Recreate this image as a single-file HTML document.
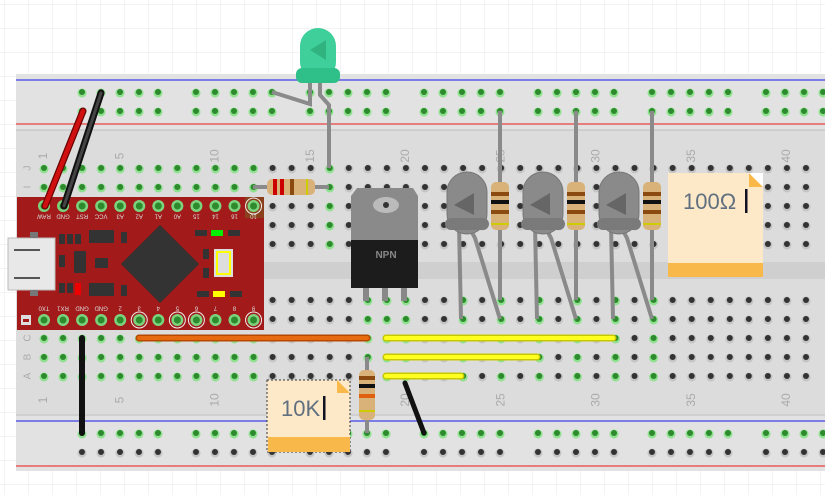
<!DOCTYPE html>
<html><head><meta charset="utf-8"><style>
html,body{margin:0;padding:0;background:#fff}
svg{display:block}
</style></head><body>
<svg id="s" width="825" height="495" viewBox="0 0 825 495" xmlns="http://www.w3.org/2000/svg" font-family="Liberation Sans, sans-serif">
<defs>
<pattern id="g" width="24" height="24" patternUnits="userSpaceOnUse" x="4" y="4"><path d="M24 0H0V24" fill="none" stroke="#e6e8ee" stroke-width="1"/></pattern>
</defs>
<rect width="825" height="495" fill="url(#g)"/>
<rect x="16" y="74" width="809" height="397" fill="#dcdcdc"/>
<rect x="16" y="74" width="809" height="56" fill="#e2e2e2"/>
<rect x="16" y="414" width="809" height="57" fill="#e2e2e2"/>
<line x1="16" y1="80" x2="825" y2="80" stroke="#5a5ae8" stroke-width="1.5"/>
<line x1="16" y1="124" x2="825" y2="124" stroke="#e85a5a" stroke-width="1.5"/>
<line x1="16" y1="130" x2="825" y2="130" stroke="#bdbdbd"/>
<line x1="16" y1="415" x2="825" y2="415" stroke="#bdbdbd"/>
<line x1="16" y1="421" x2="825" y2="421" stroke="#5a5ae8" stroke-width="1.5"/>
<line x1="16" y1="466" x2="825" y2="466" stroke="#e85a5a" stroke-width="1.5"/>
<rect x="16" y="262" width="809" height="17" fill="#cfcfcf"/>
<g id="holes"></g>
<g id="labels" fill="#aaa" font-size="12"></g>

<!-- Arduino -->
<rect x="17" y="197" width="247" height="133" fill="#a31a1a"/>
<rect x="8" y="238" width="47" height="52" fill="#e8e8e8" stroke="#bbb"/>
<rect x="30" y="232" width="8" height="6" fill="#777"/><rect x="30" y="290" width="8" height="6" fill="#777"/>
<line x1="14" y1="250" x2="40" y2="250" stroke="#555" stroke-width="2"/><line x1="14" y1="278" x2="40" y2="278" stroke="#555" stroke-width="2"/>
<polygon points="160,225 199,264 160,303 121,264" fill="#333"/>
<rect x="59" y="234" width="6" height="10" fill="#333"/><rect x="67" y="234" width="6" height="10" fill="#333"/><rect x="75" y="234" width="6" height="10" fill="#333"/>
<rect x="89" y="230" width="25" height="13" fill="#333"/><rect x="121" y="232" width="6" height="11" fill="#333"/>
<rect x="59" y="255" width="6" height="12" fill="#333"/><rect x="74" y="251" width="12" height="22" fill="#333"/><rect x="95" y="258" width="13" height="10" fill="#333"/>
<rect x="59" y="283" width="6" height="10" fill="#333"/><rect x="67" y="283" width="6" height="10" fill="#333"/><rect x="75" y="283" width="6" height="12" fill="#e00"/>
<rect x="89" y="283" width="25" height="13" fill="#333"/><rect x="121" y="285" width="6" height="11" fill="#333"/>
<rect x="195" y="230" width="12" height="6" fill="#333"/><rect x="211" y="230" width="12" height="6" fill="#0e0"/><rect x="228" y="230" width="12" height="6" fill="#333"/>
<rect x="203" y="249" width="6" height="10" fill="#333"/><rect x="203" y="268" width="6" height="10" fill="#333"/>
<rect x="214" y="249" width="19" height="28" fill="#ddd"/><rect x="217" y="252" width="13" height="22" fill="none" stroke="#ff0" stroke-width="2"/>
<rect x="197" y="291" width="12" height="6" fill="#333"/><rect x="213" y="291" width="12" height="6" fill="#ff0"/><rect x="230" y="291" width="12" height="6" fill="#333"/>
<rect x="21" y="315" width="10" height="10" fill="#ddd"/><rect x="23" y="319" width="6" height="3" fill="#a31a1a"/>
<rect x="245" y="197" width="19" height="21" fill="#7a5a20" opacity=".6"/>
<g id="apins"></g>
<g fill="#ddd" font-size="6" id="alab"></g>

<!-- wires -->
<line x1="45" y1="206" x2="83" y2="111" stroke="#6a0000" stroke-width="7" stroke-linecap="round"/>
<line x1="45" y1="206" x2="83" y2="111" stroke="#d01010" stroke-width="4.5" stroke-linecap="round"/>
<line x1="64" y1="206" x2="101" y2="93" stroke="#111" stroke-width="7" stroke-linecap="round"/>
<line x1="64" y1="206" x2="101" y2="93" stroke="#444" stroke-width="3" stroke-linecap="round"/>
<line x1="82" y1="338" x2="82" y2="433" stroke="#111" stroke-width="6" stroke-linecap="round"/>
<line x1="139" y1="338" x2="367" y2="338" stroke="#b84800" stroke-width="7" stroke-linecap="round"/>
<line x1="139" y1="338" x2="367" y2="338" stroke="#e86a10" stroke-width="4" stroke-linecap="round"/>
<g stroke-linecap="round">
<line x1="386" y1="338" x2="613" y2="338" stroke="#c8c800" stroke-width="7"/><line x1="386" y1="338" x2="613" y2="338" stroke="#ffff20" stroke-width="4"/>
<line x1="386" y1="357" x2="537" y2="357" stroke="#c8c800" stroke-width="7"/><line x1="386" y1="357" x2="537" y2="357" stroke="#ffff20" stroke-width="4"/>
<line x1="386" y1="376" x2="461" y2="376" stroke="#c8c800" stroke-width="7"/><line x1="386" y1="376" x2="461" y2="376" stroke="#ffff20" stroke-width="4"/>
</g>
<line x1="405" y1="383" x2="424" y2="433" stroke="#111" stroke-width="5" stroke-linecap="round"/>

<!-- LED top -->
<polyline points="272,92 310,104 310,82" fill="none" stroke="#8a8a8a" stroke-width="4"/>
<polyline points="320,82 320,95 329,105 329,168" fill="none" stroke="#8a8a8a" stroke-width="4"/>
<rect x="300" y="28" width="36" height="52" rx="18" fill="#3ecf9a"/>
<rect x="296" y="68" width="44" height="15" rx="6" fill="#2fbf88"/>
<path d="M310 50 L326 40 L326 60 Z" fill="#2aa070" opacity=".6"/>
<!-- horizontal resistor -->
<line x1="253" y1="187" x2="329" y2="187" stroke="#8a8a8a" stroke-width="4"/>
<rect x="267" y="179" width="48" height="16" rx="5" fill="#d9b27a"/>
<rect x="273" y="179" width="4" height="16" fill="#c00"/><rect x="280" y="179" width="4" height="16" fill="#c00"/><rect x="290" y="179" width="4" height="16" fill="#8a4a10"/><rect x="306" y="179" width="2" height="16" fill="#cc0"/>

<!-- transistor -->
<rect x="363" y="285" width="6" height="16" fill="#888"/><rect x="382" y="285" width="6" height="16" fill="#888"/><rect x="401" y="285" width="6" height="16" fill="#888"/>
<polygon points="357,188 413,188 418,196 418,240 351,240 351,196" fill="#8a8a8a"/>
<ellipse cx="386" cy="205" rx="13" ry="8" fill="#bbb"/><circle cx="386" cy="205" r="3" fill="#333"/>
<rect x="351" y="240" width="67" height="48" fill="#1c1c1c"/>
<text x="386" y="258" text-anchor="middle" fill="#888" font-size="10" font-weight="bold">NPN</text>

<!-- bottom resistor -->
<line x1="367" y1="357" x2="367" y2="433" stroke="#8a8a8a" stroke-width="4"/>
<rect x="359" y="370" width="16" height="50" rx="5" fill="#d9b27a"/>
<rect x="359" y="376" width="16" height="4" fill="#8a4a10"/><rect x="359" y="384" width="16" height="4" fill="#111"/><rect x="359" y="394" width="16" height="4" fill="#e06010"/><rect x="359" y="410" width="16" height="2" fill="#cc0"/>
<g id="leds"></g>

<!-- notes -->
<rect x="668" y="173" width="95" height="104" fill="#fde8c8"/>
<polygon points="749,173 763,187 749,187" fill="#f8b94a"/>
<polygon points="749,173 763,173 763,187" fill="#fff"/>
<rect x="668" y="263" width="95" height="14" fill="#f8b94a"/>
<text x="683" y="209" font-size="22" fill="#607080">100Ω</text>
<rect x="745" y="189" width="2.5" height="24" fill="#112"/>
<rect x="267" y="380" width="83" height="72" fill="#fde8c8" stroke="#333" stroke-dasharray="2,2"/>
<rect x="268" y="437" width="82" height="15" fill="#f8b94a"/>
<polygon points="337,380 350,393 337,393" fill="#f8b94a"/>
<text x="281" y="416" font-size="22" fill="#607080">10K</text>
<rect x="323" y="396" width="2.5" height="24" fill="#112"/>
</svg>
<script>
const NS="http://www.w3.org/2000/svg";
function el(p,t,a){const e=document.createElementNS(NS,t);for(const k in a)e.setAttribute(k,a[k]);p.appendChild(e);return e;}
const H=document.getElementById('holes');
const X=c=>44+(c-1)*19.05;
function hole(x,y,g){el(H,'circle',{cx:x,cy:y+1,r:4.5,fill:g?'#8fe08f':'#c4c4c4'});el(H,'circle',{cx:x,cy:y,r:3,fill:g?'#2d8a2d':'#333'});}
// rails
let rx=[];for(let k=0;k<7;k++)for(let j=0;j<5;j++)rx.push(82+k*114+j*19);
rx.forEach(x=>{if(x<825){hole(x,92,true);hole(x,111,true);hole(x,433,true);hole(x,452,false);}});
const topG=c=>c<=12||c==16;
const botG=c=>c<=12||[18,19,20,23,25,27,29,31,33].includes(c);
const topR=[168,187,206,225,244],botR=[300,319,338,357,376];
for(let c=1;c<=42;c++){const x=X(c);if(x>825)break;topR.forEach(y=>hole(x,y,topG(c)));botR.forEach(y=>hole(x,y,botG(c)));}
const L=document.getElementById('labels');
[1,5,10,15,20,25,30,35,40].forEach(c=>{[156,400].forEach(y=>{const t=el(L,'text',{x:X(c),y:y,transform:`rotate(-90 ${X(c)} ${y})`,'text-anchor':'middle','dominant-baseline':'middle'});t.textContent=c;});});
[['J',168],['I',187],['C',338],['B',357],['A',376]].forEach(([s,y])=>{const t=el(L,'text',{x:28,y:y,transform:`rotate(-90 28 ${y})`,'text-anchor':'middle','dominant-baseline':'middle','font-size':10});t.textContent=s;});
// arduino pins
const P=document.getElementById('apins'),AL=document.getElementById('alab');
const tl=['RAW','GND','RST','VCC','A3','A2','A1','A0','15','14','16','10'];
const bl=['TX0','RX1','GND','GND','2','3','4','5','6','7','8','9'];
for(let i=0;i<12;i++){const x=X(i+2)-19.05;
 el(P,'circle',{cx:x,cy:206,r:6,fill:'#7dd37d'});el(P,'circle',{cx:x,cy:206,r:3.5,fill:'#2d8a2d'});
 el(P,'circle',{cx:x,cy:320,r:6,fill:'#7dd37d'});el(P,'circle',{cx:x,cy:320,r:3.5,fill:'#2d8a2d'});
 let t=el(AL,'text',{x:x,y:216,transform:`rotate(180 ${x} 216)`,'text-anchor':'middle','dominant-baseline':'middle'});t.textContent=tl[i];
 t=el(AL,'text',{x:x,y:308,transform:`rotate(180 ${x} 308)`,'text-anchor':'middle','dominant-baseline':'middle'});t.textContent=bl[i];}
[X(6),X(8),X(9),X(12)].forEach(x=>el(P,'circle',{cx:x,cy:320,r:8,fill:'none',stroke:'#eee','stroke-width':1}));
el(P,'circle',{cx:X(12),cy:206,r:8,fill:'none',stroke:'#eee','stroke-width':1});
// gray LEDs + resistors
const G=document.getElementById('leds');
[[461,500],[537,576],[613,652]].forEach(([lx,rx2])=>{
 el(G,'line',{x1:rx2,y1:111,x2:rx2,y2:300,stroke:'#8a8a8a','stroke-width':4});
 el(G,'polyline',{points:`${lx-2},225 ${lx},319`,stroke:'#8a8a8a','stroke-width':4,fill:'none'});
 el(G,'polyline',{points:`${lx+7},225 ${lx+14},238 ${lx+39},319`,stroke:'#8a8a8a','stroke-width':4,fill:'none'});
 el(G,'rect',{x:lx-14,y:172,width:40,height:62,rx:20,fill:'#8a8a8a',stroke:'#777'});
 el(G,'rect',{x:lx-16,y:218,width:44,height:12,rx:6,fill:'#7a7a7a'});
 el(G,'path',{d:`M${lx-7} 205 L${lx+13} 193 L${lx+13} 215 Z`,fill:'#666'});
 el(G,'rect',{x:rx2-9,y:182,width:18,height:48,rx:5,fill:'#d9b27a'});
 el(G,'rect',{x:rx2-9,y:192,width:18,height:4,fill:'#8a4a10'});
 el(G,'rect',{x:rx2-9,y:200,width:18,height:4,fill:'#111'});
 el(G,'rect',{x:rx2-9,y:210,width:18,height:4,fill:'#8a4a10'});
 el(G,'rect',{x:rx2-9,y:223,width:18,height:2,fill:'#cc0'});
});
</script>
</body></html>
